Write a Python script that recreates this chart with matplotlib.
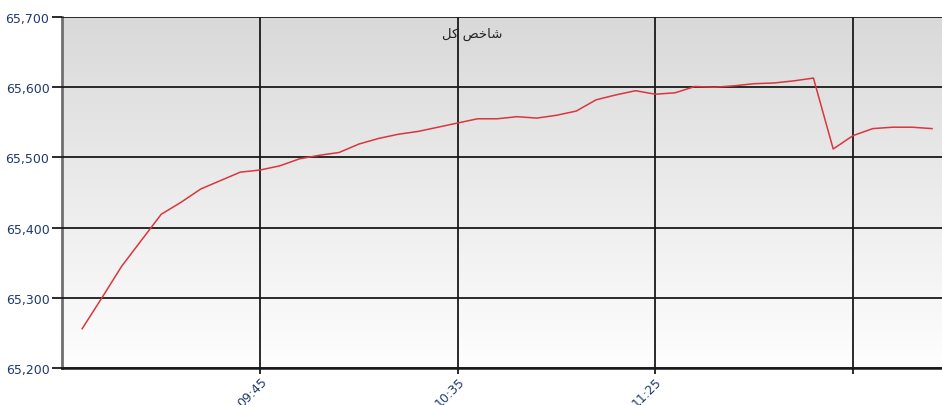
import numpy as np
import matplotlib
matplotlib.use("Agg")
import matplotlib.pyplot as plt

# قیمت هر ۵ دقیقه از 09:00
times = ["09:00", "09:05", "09:10", "09:15", "09:20", "09:25", "09:30", "09:35", "09:40", "09:45",
         "09:50", "09:55", "10:00", "10:05", "10:10", "10:15", "10:20", "10:25", "10:30", "10:35",
         "10:40", "10:45", "10:50", "10:55", "11:00", "11:05", "11:10", "11:15", "11:20", "11:25",
         "11:30", "11:35", "11:40", "11:45", "11:50", "11:55", "12:00", "12:05", "12:10", "12:15",
         "12:20", "12:25", "12:30", "12:35"]
values = [65256, 65300, 65345, 65382, 65419, 65436, 65455, 65467, 65479, 65482,
          65488, 65498, 65503, 65507, 65519, 65527, 65533, 65537, 65543, 65549,
          65555, 65555, 65558, 65556, 65560, 65566, 65582, 65589, 65595, 65590,
          65592, 65601, 65600, 65602, 65605, 65606, 65609, 65613, 65512, 65531,
          65541, 65543, 65543, 65541]
tick_times = ["09:45", "10:35", "11:25", "12:15"]
tick_labels = ["09:45", "10:35", "11:25", ""]
y_ticks = [65200, 65300, 65400, 65500, 65600, 65700]

# عنوان: شاخص کل (شکل‌های نمایشی چون matplotlib حروف عربی را به هم وصل نمی‌کند)
title = "\uFEDE\uFB90 \uFEBA\uFEA7\uFE8E\uFEB7"


def to_min(t):
    h, m = t.split(":")
    return int(h) * 60 + int(m) - 9 * 60


x = [to_min(t) for t in times]
xt = [to_min(t) for t in tick_times]

fig = plt.figure(figsize=(9.42, 4.06), dpi=100)
ax = fig.add_axes([62 / 942, 1 - 369 / 406, 1 - 62 / 942 + 0.002, (369 - 18) / 406])

x0, x1 = -5.1, 218.0
ax.set_xlim(x0, x1)
ax.set_ylim(65200, 65700)

# پس زمینه گرادیان خاکستری
grad = np.linspace(0, 1, 256).reshape(-1, 1)
cmap = matplotlib.colors.LinearSegmentedColormap.from_list("bg", ["#d9d9d9", "#fefefe"])
ax.imshow(grad, extent=[x0, x1, 65200, 65700], aspect="auto", cmap=cmap, zorder=0)

ax.plot(x, values, color="#d9363e", lw=1.1, zorder=3)

ax.set_yticks(y_ticks)
ax.set_yticklabels([f"{v:,}" for v in y_ticks])
ax.set_xticks(xt)
ax.set_xticklabels(tick_labels, rotation=45, ha="right", rotation_mode="anchor")

ax.grid(True, color="#1a1a1a", lw=1.3, zorder=1)
ax.set_axisbelow(False)
for gl in ax.get_xgridlines() + ax.get_ygridlines():
    gl.set_zorder(1)

ax.tick_params(axis="y", length=7, width=1.3, color="#1a1a1a", labelsize=9,
               labelcolor="#1f3a6b", pad=2)
ax.tick_params(axis="x", length=4, width=1.3, color="#1a1a1a", labelsize=9,
               labelcolor="#1f3a6b", pad=1)

ax.spines["right"].set_visible(False)
ax.spines["top"].set_visible(False)
ax.spines["left"].set_color("#707070")
ax.spines["left"].set_linewidth(2)
ax.spines["bottom"].set_color("#1a1a1a")
ax.spines["bottom"].set_linewidth(1.8)

ax.text(0.465, 0.972, title, transform=ax.transAxes, ha="center", va="top",
        fontsize=9.5, color="#222222", family=["DejaVu Sans"], zorder=4)

fig.savefig("out.png", dpi=100)
